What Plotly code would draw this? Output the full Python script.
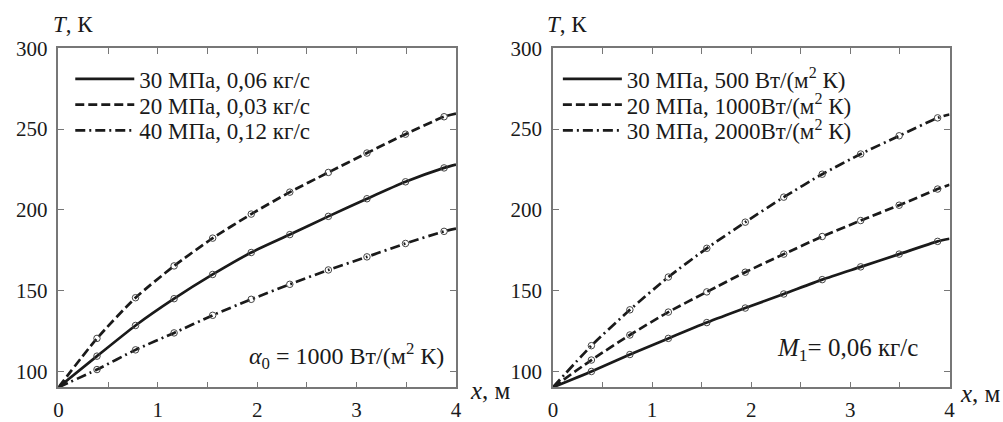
import plotly.graph_objects as go

# ---------------- data ----------------
x_pts = [0.0, 0.388, 0.776, 1.164, 1.552, 1.94, 2.328, 2.716, 3.104, 3.492, 3.88, 4.0]

# left panel: alpha0 = 1000 W/(m2 K)
left_names = ["30 МПа, 0,06 кг/с", "20 МПа, 0,03 кг/с", "40 МПа, 0,12 кг/с"]
left_solid = [90, 109.3, 128.3, 144.9, 159.9, 173.5, 184.6, 195.9, 206.8, 217.3, 225.9, 228.0]
left_dash = [90, 120.3, 145.5, 165.2, 182.4, 197.3, 210.9, 223.1, 235.1, 246.8, 257.6, 259.5]
left_dashdot = [90, 101.0, 113.2, 123.7, 134.6, 144.5, 153.8, 162.7, 170.8, 179.1, 186.6, 188.3]

# right panel: M1 = 0,06 kg/s
right_names = ["30 МПа, 500 Вт/(м<sup>2</sup> К)", "20 МПа, 1000Вт/(м<sup>2</sup> К)",
               "30 МПа, 2000Вт/(м<sup>2</sup> К)"]
right_solid = [90, 99.8, 110.3, 120.3, 130.1, 139.1, 147.8, 156.7, 164.6, 172.5, 180.4, 182.0]
right_dash = [90, 106.9, 122.4, 136.6, 149.1, 161.3, 172.5, 183.4, 193.3, 202.8, 212.8, 215.5]
right_dashdot = [90, 115.8, 138.0, 158.3, 176.1, 192.3, 207.8, 222.0, 234.5, 245.8, 256.9, 259.0]

y_tickvals = [100, 150, 200, 250, 300]

FONT = "Times New Roman, Times, serif"
INK = "#1a1a1a"
dashes = ["solid", "9px,4px", "10px,4px,2px,4px"]
W, H = 1003, 422
row_px = [70, 97, 124]  # legend anchor rows (px from top)

fig = go.Figure()


def add_panel(series, names, xa, ya, legends):
    for vals, name, dash, lg in zip(series, names, dashes, legends):
        fig.add_trace(go.Scatter(
            x=x_pts, y=vals, mode="lines", name=name,
            line=dict(color=INK, width=2.7, dash=dash, shape="spline", smoothing=0.6),
            xaxis=xa, yaxis=ya, legend=lg, showlegend=True))
        fig.add_trace(go.Scatter(
            x=x_pts[1:-1], y=vals[1:-1], mode="markers",
            marker=dict(symbol="circle-open", size=6.5, color="#444", line=dict(width=1)),
            xaxis=xa, yaxis=ya, showlegend=False))


add_panel([left_solid, left_dash, left_dashdot], left_names, "x", "y",
          ["legend", "legend2", "legend3"])
add_panel([right_solid, right_dash, right_dashdot], right_names, "x2", "y2",
          ["legend4", "legend5", "legend6"])

ydom = [(H - 393) / H, (H - 38) / H]

axis_common = dict(
    showgrid=False, zeroline=False, showline=True, linecolor="#777", linewidth=1.5,
    mirror="ticks", ticks="inside", ticklen=6, tickcolor="#777", tickwidth=1.3,
    tickfont=dict(family=FONT, size=21, color=INK),
)
xaxis_extra = dict(range=[0, 4], tick0=0, dtick=1, ticklabelstandoff=3,
                   minor=dict(dtick=0.5, ticks="inside", ticklen=6, tickcolor="#777",
                              tickwidth=1.3, showgrid=False))
yaxis_extra = dict(range=[90, 300], tickvals=y_tickvals, ticklabelstandoff=5)

legend_common = dict(xanchor="left", yanchor="middle", bgcolor="rgba(0,0,0,0)",
                     font=dict(family=FONT, size=23, color=INK), itemwidth=59)
legends = {}
for i, r in enumerate(row_px):
    legends["legend" if i == 0 else f"legend{i + 1}"] = dict(x=66 / W, y=1 - r / H, **legend_common)
    legends[f"legend{i + 4}"] = dict(x=559 / W, y=1 - r / H, **legend_common)

fig.update_layout(
    width=W, height=H,
    paper_bgcolor="white", plot_bgcolor="white",
    font=dict(family=FONT, color=INK),
    margin=dict(l=0, r=0, t=0, b=0),
    xaxis=dict(domain=[54 / W, 456 / W], anchor="y", **xaxis_extra, **axis_common),
    yaxis=dict(domain=ydom, anchor="x", **yaxis_extra, **axis_common),
    xaxis2=dict(domain=[554 / W, 955 / W], anchor="y2", **xaxis_extra, **axis_common),
    yaxis2=dict(domain=ydom, anchor="x2", **yaxis_extra, **axis_common),
    showlegend=True,
    **legends,
)

annotations = [
    dict(text="<i>T</i>, К", x=47 / W, y=1 - 13 / H, xanchor="left", yanchor="middle", size=23),
    dict(text="<i>T</i>, К", x=546 / W, y=1 - 13 / H, xanchor="left", yanchor="middle", size=23),
    dict(text="<i>x</i>, м", x=468 / W, y=1 - 396 / H, xanchor="left", yanchor="middle", size=25),
    dict(text="<i>x</i>, м", x=964 / W, y=1 - 400 / H, xanchor="left", yanchor="middle", size=25),
    dict(text="<i>α</i><sub>0</sub> = 1000 Вт/(м<sup>2</sup> К)", x=446 / W, y=1 - 360 / H,
         xanchor="right", yanchor="middle", size=24),
    dict(text="<i>M</i><sub>1</sub>= 0,06 кг/с", x=779 / W, y=1 - 353 / H,
         xanchor="left", yanchor="middle", size=25),
]
for a in annotations:
    size = a.pop("size")
    fig.add_annotation(xref="paper", yref="paper", showarrow=False,
                       font=dict(family=FONT, size=size, color=INK), **a)

fig.write_html("out.html", config={"displayModeBar": False},
               post_script="document.body.style.margin='0px';")
